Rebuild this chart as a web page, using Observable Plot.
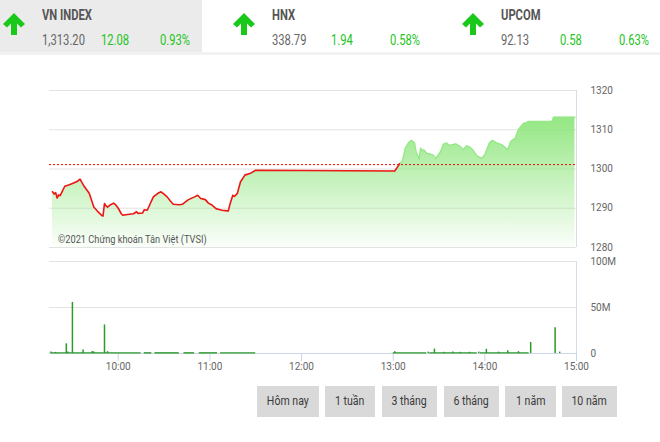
<!DOCTYPE html>
<html><head><meta charset="utf-8">
<script src="https://cdn.jsdelivr.net/npm/d3@7"></script>
<script src="https://cdn.jsdelivr.net/npm/@observablehq/plot@0.6"></script>
<style>
html,body{margin:0;padding:0}
body{width:660px;height:442px;overflow:hidden;background:#fff;font-family:Roboto,sans-serif;position:relative}
.abs{position:absolute;white-space:nowrap}
.cond{transform:scaleX(0.8);transform-origin:0 0;display:inline-block}
.tab{position:absolute;left:0;top:0;width:202px;height:52px;background:#ebebeb}
.hline{position:absolute;left:0;top:52px;width:660px;height:3px;background:#f2f2f2}
.title{font-size:14px;line-height:14px;font-weight:bold;color:#555}
.num{font-size:14px;line-height:14px;color:#666}
.up{color:#22c322}
.btn{position:absolute;top:386px;height:31px;background:#d9d9d9;color:#3a3a3a;font-size:12px;line-height:31px;text-align:center}
.btn span{display:inline-block;transform:scaleX(0.88)}
#wm{font-size:11px;line-height:13px;color:#555}
#vol svg [aria-label^="x-axis"] line,#vol svg [aria-label="x-axis tick"] path{stroke:#ccd6eb}
</style></head><body>
<div class="tab"></div>
<div class="hline"></div>
<div id="header"></div>
<div id="price" class="abs" style="left:0;top:80px"></div>
<div id="vol" class="abs" style="left:0;top:250px"></div>
<div id="wm" class="abs" style="left:58px;top:233px"><span class="cond" style="transform:scaleX(0.84)">©2021 Chứng khoán Tân Việt (TVSI)</span></div>
<div id="buttons"></div>
<script>
// ---- header data ----
const indexNames = ["VN INDEX", "HNX", "UPCOM"];
const indexValues = ["1,313.20", "338.79", "92.13"];
const indexChanges = ["12.08", "1.94", "0.58"];
const indexPercents = ["0.93%", "0.58%", "0.63%"];

// ---- price data (VN INDEX intraday) ----
const refPrice = 1301.12;
const priceTimes = ["09:17","09:18","09:19","09:20","09:21","09:22","09:25","09:28","09:30","09:33","09:35","09:36","09:38","09:41","09:44","09:47","09:49","09:50","09:51","09:52","09:53","09:55","09:57","09:58","10:00","10:02","10:03","10:06","10:10","10:12","10:13","10:16","10:17","10:19","10:21","10:23","10:26","10:28","10:30","10:32","10:34","10:36","10:40","10:42","10:44","10:46","10:50","10:52","10:54","10:57","10:59","11:01","11:04","11:06","11:08","11:10","11:12","11:13","11:15","11:16","11:18","11:20","11:23","11:25","11:27","11:30","13:00","13:01","13:03","13:04","13:06","13:08","13:10","13:12","13:14","13:15","13:17","13:18","13:19","13:20","13:22","13:26","13:28","13:31","13:33","13:35","13:37","13:39","13:41","13:44","13:46","13:48","13:50","13:52","13:55","13:58","14:00","14:03","14:05","14:08","14:11","14:13","14:15","14:17","14:20","14:22","14:25","14:29","14:44","14:45","14:59"];
const priceValues = [1294.2,1293.6,1294.0,1292.6,1293.4,1293.2,1295.6,1296.0,1296.3,1296.8,1297.4,1296.7,1295.4,1293.8,1290.3,1289.0,1288.2,1288.0,1291.2,1290.6,1290.3,1290.9,1291.3,1291.0,1290.0,1288.6,1288.2,1288.4,1288.6,1289.1,1288.7,1288.8,1289.6,1289.5,1291.2,1292.9,1293.8,1294.2,1293.6,1292.9,1291.9,1291.0,1290.9,1291.0,1291.6,1292.2,1292.9,1293.3,1292.5,1292.2,1291.3,1290.9,1289.9,1289.7,1289.5,1289.4,1289.3,1290.8,1293.3,1293.0,1293.8,1296.7,1298.5,1298.7,1299.0,1299.7,1299.5,1299.5,1300.6,1301.3,1301.9,1305.3,1306.6,1307.3,1306.6,1304.4,1302.5,1305.3,1304.6,1304.9,1304.0,1303.6,1302.7,1304.4,1306.4,1306.6,1306.0,1306.2,1306.4,1305.7,1304.9,1305.9,1305.6,1304.9,1303.3,1302.7,1303.6,1306.6,1307.3,1306.6,1306.2,1305.6,1304.9,1307.0,1307.9,1310.0,1311.5,1312.1,1312.1,1313.2,1313.2];

// ---- volume data (millions of shares) ----
const volTimes = ["09:16","09:19","09:26","09:27","09:30","09:37","09:43","09:44","09:51","09:53","13:01","13:23","13:27","13:33","13:39","13:44","13:50","13:56","14:01","14:09","14:15","14:22","14:30","14:46","14:49"];
const volValues = [1.5,1.2,10.5,1.5,55.5,3.8,2.2,1.5,31,2,2,1.5,4.8,1.3,1.5,1.3,1.3,1.5,4.5,1.5,3,2,12,28,1.5];
const baseStart = ["09:16","10:17","10:24","10:43","10:53","11:07","13:00","13:24","13:57"];
const baseEnd   = ["10:15","10:22","10:40","10:50","11:05","11:30","13:22","13:55","14:29"];
const baseVolume = 0.7;

// ---- axes ----
const priceTicks = [1280, 1290, 1300, 1310, 1320];
const volTicks = [0, 50, 100];
const hourTicks = ["10:00","11:00","12:00","13:00","14:00","15:00"];
const sessionStart = "09:15", sessionEnd = "15:00";
const rangeButtons = ["Hôm nay", "1 tuần", "3 tháng", "6 tháng", "1 năm", "10 năm"];

const T = s => new Date(`2021-07-01T${s}:00Z`);

// ---- header ----
const header = document.getElementById("header");
const arrowLeft = [3, 233, 462];
indexNames.forEach((n, i) => {
  const a = arrowLeft[i], L = a + 38.5;
  header.insertAdjacentHTML("beforeend", `
    <svg class="abs" style="left:${a}px;top:13px" width="22" height="22" viewBox="0 0 22 22">
      <polygon points="11,0 22,11 18,14.5 14,10.5 14,22 8,22 8,10.5 4,14.5 0,11" fill="#19c819"/></svg>
    <div class="abs title" style="left:${L}px;top:8px"><span class="cond">${n}</span></div>
    <div class="abs num" style="left:${L}px;top:33px"><span class="cond">${indexValues[i]}</span></div>
    <div class="abs num up" style="left:${L + 59}px;top:33px"><span class="cond">${indexChanges[i]}</span></div>
    <div class="abs num up" style="left:${L + 118}px;top:33px"><span class="cond">${indexPercents[i]}</span></div>`);
});

// ---- buttons ----
const btnLeft = [257, 325, 382, 444, 505, 562], btnW = [62, 50, 55, 55, 51, 55];
const bdiv = document.getElementById("buttons");
rangeButtons.forEach((b, i) => {
  bdiv.insertAdjacentHTML("beforeend", `<div class="btn" style="left:${btnLeft[i]}px;width:${btnW[i]}px"><span>${b}</span></div>`);
});

// ---- price chart ----
const price = priceTimes.map((t, i) => ({t: T(t), v: priceValues[i]}));
const cross = price.findIndex(d => d.v > refPrice);
const redPart = price.slice(0, cross + 1);
const greenPart = price.slice(cross);

const gradientDefs = () => {
  const ns = "http://www.w3.org/2000/svg";
  const defs = document.createElementNS(ns, "defs");
  const g = document.createElementNS(ns, "linearGradient");
  g.setAttribute("id", "priceFill");
  g.setAttribute("x1", "0"); g.setAttribute("y1", "0"); g.setAttribute("x2", "0"); g.setAttribute("y2", "1");
  [["0", "0.95"], ["1", "0.04"]].forEach(([o, op]) => {
    const s = document.createElementNS(ns, "stop");
    s.setAttribute("offset", o); s.setAttribute("stop-color", "#8ee67c"); s.setAttribute("stop-opacity", op);
    g.appendChild(s);
  });
  defs.appendChild(g);
  return defs;
};

const xDomain = [T(sessionStart), T(sessionEnd)];
const common = {
  width: 660, marginLeft: 49, marginRight: 84,
  style: {fontFamily: "Roboto, sans-serif", fontSize: "10px", color: "#666", background: "transparent", overflow: "visible"}
};

const pricePlot = Plot.plot({
  ...common, height: 180, marginTop: 10, marginBottom: 13,
  x: {type: "utc", domain: xDomain, axis: null},
  y: {domain: [priceTicks[0], priceTicks[priceTicks.length - 1]], axis: "right", ticks: priceTicks, tickSize: 0, tickPadding: 14, label: null, tickFormat: d => String(d)},
  marks: [
    gradientDefs,
    Plot.ruleY(priceTicks, {stroke: "#e3e3e3"}),
    Plot.areaY(price, {x: "t", y1: priceTicks[0], y2: "v", fill: "url(#priceFill)"}),
    Plot.ruleY([refPrice], {stroke: "#f00", strokeDasharray: "2,2", strokeWidth: 1}),
    Plot.line(greenPart, {x: "t", y: "v", stroke: "#97e889", strokeWidth: 1.4}),
    Plot.line(redPart, {x: "t", y: "v", stroke: "#ee1515", strokeWidth: 1.6}),
    Plot.ruleX([T(sessionEnd)], {y1: priceTicks[0], y2: priceTicks[priceTicks.length - 1], stroke: "#d6dde8"})
  ]
});
document.getElementById("price").appendChild(pricePlot);

// ---- volume chart ----
const vol = volTimes.map((t, i) => ({t: T(t), v: volValues[i]}));
const base = baseStart.map((s, i) => ({s: T(s), e: T(baseEnd[i])}));
const volPlot = Plot.plot({
  ...common, height: 125, marginTop: 11, marginBottom: 22,
  x: {type: "utc", domain: xDomain, ticks: hourTicks.map(T), tickFormat: d3.utcFormat("%H:%M"), tickSize: 8, tickPadding: 1, label: null},
  y: {domain: [0, 100], axis: "right", ticks: volTicks, tickSize: 0, tickPadding: 14, label: null, tickFormat: d => d ? d + "M" : "0"},
  marks: [
    Plot.ruleY(volTicks.slice(1), {stroke: "#e3e3e3"}),
    Plot.ruleY([0], {stroke: "#ccd6eb"}),
    Plot.ruleY(base, {x1: "s", x2: "e", y: baseVolume, stroke: "#2a9a2a", strokeWidth: 1.4}),
    Plot.ruleX(vol, {x: "t", y1: 0, y2: "v", stroke: "#2a9a2a", strokeWidth: 1.5}),
    Plot.ruleX([T(sessionEnd)], {y1: 0, y2: 100, stroke: "#d6dde8"})
  ]
});
document.getElementById("vol").appendChild(volPlot);
</script>
</body></html>
